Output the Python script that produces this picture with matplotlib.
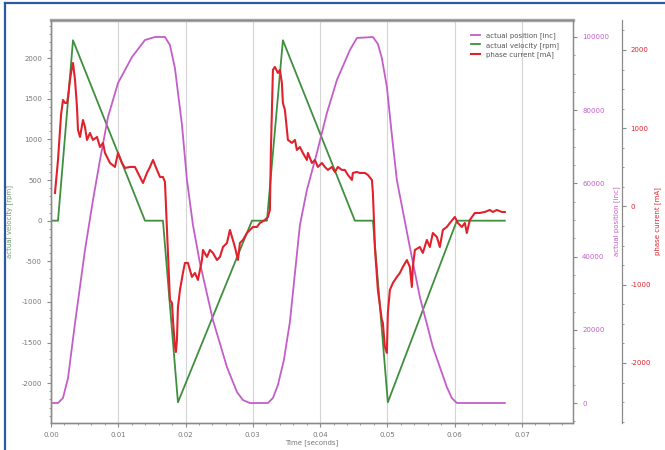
import matplotlib.pyplot as plt
from matplotlib.lines import Line2D
from matplotlib.ticker import MultipleLocator, AutoMinorLocator, FormatStrFormatter

plt.rcParams['axes.unicode_minus'] = False

# time values in milliseconds
vel_t = [0.0, 1.04, 3.27, 13.97, 16.64, 18.87, 29.87, 32.10, 34.47, 45.17,
         47.85, 50.07, 60.33, 67.46]
vel_rpm = [0, 0, 2220, 0, 0, -2235, 0, 0, 2220, 0, 0, -2235, 0, 0]

pos_t = [0.0, 1.04, 1.78, 2.53, 3.57, 5.05, 6.24, 7.28, 8.47, 9.96, 12.04,
         13.97, 15.45, 16.94, 17.68, 18.42, 19.47, 20.21, 21.10, 22.14, 24.07,
         26.15, 27.64, 28.53, 29.57, 32.24, 32.99, 33.73, 34.62, 35.51, 37.0,
         38.04, 39.52, 41.01, 42.50, 44.43, 45.47, 47.85, 48.59, 49.18, 49.93,
         50.67, 51.41, 53.34, 54.83, 56.76, 58.84, 59.58, 60.33, 67.46]
pos_inc = [0, 0, 1370, 6830, 21860, 41800, 55460, 66390, 78140, 87430, 94540,
           99180, 100000, 100000, 97810, 91530, 75960, 60930, 48630, 38250,
           22680, 9840, 3000, 820, 0, 0, 1370, 4920, 11750, 22130, 48630,
           58200, 68310, 79230, 88250, 96450, 99730, 100000, 98090, 94260,
           86340, 73220, 60930, 42620, 28960, 15300, 4370, 1370, 0, 0]

cur_t = [0.59, 1.04, 1.49, 1.78, 2.08, 2.38, 2.53, 2.82, 3.12, 3.27, 3.57,
         3.86, 4.01, 4.31, 4.75, 5.05, 5.35, 5.79, 6.24, 6.84, 7.28, 7.73,
         8.02, 8.32, 8.77, 9.51, 9.96, 10.55, 11.0, 11.74, 12.48, 13.22,
         13.67, 14.26, 14.71, 15.16, 15.75, 16.2, 16.64, 16.94, 17.24, 17.68,
         17.98, 18.13, 18.42, 18.57, 18.72, 18.87, 19.17, 19.61, 19.91, 20.36,
         20.95, 21.40, 21.84, 22.44, 22.59, 23.18, 23.63, 24.07, 24.67, 25.11,
         25.56, 26.15, 26.60, 27.04, 27.34, 27.79, 28.08, 28.53, 29.12, 29.57,
         30.01, 30.61, 31.05, 31.80, 32.24, 32.54, 32.69, 32.99, 33.28, 33.73,
         34.03, 34.32, 34.47, 34.77, 35.07, 35.22, 35.81, 36.26, 36.55, 37.0,
         37.44, 38.04, 38.19, 38.78, 39.23, 39.67, 40.27, 40.71, 41.16, 41.75,
         42.2, 42.64, 43.24, 43.68, 44.13, 44.73, 44.87, 45.47, 45.91, 46.66,
         47.10, 47.70, 47.85, 48.0, 48.14, 48.59, 49.18, 49.33, 49.63, 49.93,
         50.07, 50.37, 50.82, 51.41, 51.86, 52.30, 52.90, 53.34, 53.64, 53.79,
         54.09, 54.83, 55.27, 55.87, 56.32, 56.76, 57.36, 57.80, 58.25, 58.84,
         59.29, 60.03, 60.48, 61.07, 61.52, 61.81, 62.26, 63.0, 63.74, 64.49,
         65.23, 65.68, 66.27, 67.01, 67.46]
cur_ma = [173, 594, 1169, 1361, 1323, 1323, 1400, 1617, 1783, 1834, 1617,
          1272, 978, 888, 1105, 1016, 850, 939, 850, 888, 760, 812, 684, 633,
          556, 505, 684, 556, 492, 505, 505, 377, 300, 428, 505, 594, 467, 377,
          377, 313, -300, -1195, -1233, -1450, -1796, -1860, -1706, -1284,
          -1067, -850, -722, -722, -901, -850, -939, -684, -556, -645, -556,
          -594, -684, -645, -518, -467, -300, -428, -518, -684, -467, -428,
          -339, -300, -262, -262, -211, -173, -134, -45, 722, 1745, 1783, 1706,
          1745, 1578, 1323, 1233, 978, 850, 812, 850, 722, 760, 684, 594, 684,
          556, 594, 505, 556, 505, 467, 505, 441, 505, 467, 467, 403, 339, 428,
          441, 428, 428, 403, 339, 173, -160, -518, -1067, -1450, -1489, -1796,
          -1872, -1361, -1067, -978, -901, -850, -773, -684, -773, -1029, -773,
          -556, -518, -594, -428, -518, -339, -390, -518, -300, -262, -211,
          -134, -211, -262, -211, -339, -173, -83, -83, -70, -45, -70, -45,
          -70, -70]

GREEN = '#3f8f3f'
MAGENTA = '#c35ec9'
RED = '#e0222c'
GREY = '#777777'

fig = plt.figure(figsize=(6.65, 4.5), dpi=100)
ax = fig.add_axes([0.0767, 0.06, 0.785, 0.8956])
ax_pos = ax.twinx()
ax_cur = ax.twinx()
ax_cur.spines['right'].set_position(('outward', 35))

l_vel, = ax.plot([t / 1000 for t in vel_t], vel_rpm, color=GREEN, lw=1.3,
                 label='actual velocity [rpm]')
l_pos, = ax_pos.plot([t / 1000 for t in pos_t], pos_inc, color=MAGENTA,
                     lw=1.3, label='actual position [inc]')
l_cur, = ax_cur.plot([t / 1000 for t in cur_t], cur_ma, color=RED, lw=1.5,
                     label='phase current [mA]')

ax.set_xlim(0, 0.0776)
ax.set_ylim(-2490, 2470)
ax_pos.set_ylim(-5460, 104650)
ax_cur.set_ylim(-2767, 2383)

ax.xaxis.set_major_locator(MultipleLocator(0.01))
ax.xaxis.set_major_formatter(FormatStrFormatter('%.2f'))
ax.xaxis.set_minor_locator(AutoMinorLocator(5))
ax.yaxis.set_major_locator(MultipleLocator(500))
ax.yaxis.set_minor_locator(AutoMinorLocator(5))
ax_pos.yaxis.set_major_locator(MultipleLocator(20000))
ax_pos.yaxis.set_minor_locator(AutoMinorLocator(4))
ax_cur.yaxis.set_major_locator(MultipleLocator(1000))
ax_cur.yaxis.set_minor_locator(AutoMinorLocator(4))

ax.grid(axis='x', color='#d4d4d4', lw=0.8)

for a in (ax, ax_pos, ax_cur):
    for s in a.spines.values():
        s.set_color('#8a8a8a')
        s.set_linewidth(0.9)
    a.tick_params(which='both', colors='#8a8a8a', labelsize=5, length=3)
    a.tick_params(which='minor', length=1.5)
ax.spines['top'].set_color('#b0b0b0')
ax.spines['top'].set_linewidth(2.5)
ax.tick_params(axis='both', labelcolor=GREY)
ax_pos.tick_params(axis='y', labelcolor=MAGENTA)
ax_cur.tick_params(axis='y', labelcolor=RED)

ax.set_xlabel('Time [seconds]', fontsize=5, color=GREY, labelpad=1)
ax.set_ylabel('actual velocity [rpm]', fontsize=5, color='#6f9a6f', labelpad=6)
ax_pos.set_ylabel('actual position [inc]', fontsize=5, color=MAGENTA,
                  labelpad=3)
ax_cur.set_ylabel('phase current [mA]', fontsize=5, color=RED, labelpad=2)

ax_cur.legend(handles=[l_pos, l_vel, l_cur], loc='upper right',
              bbox_to_anchor=(0.985, 0.985), frameon=False, fontsize=5,
              handlelength=1.3, labelspacing=0.4, labelcolor='#555555')

# blue frame of the figure (top and left edge)
fig.add_artist(Line2D([5 / 665, 1], [1 - 3 / 450] * 2,
                      transform=fig.transFigure, color='#2c5aa0', lw=1.6))
fig.add_artist(Line2D([5 / 665] * 2, [0, 1 - 3 / 450],
                      transform=fig.transFigure, color='#2c5aa0', lw=1.6))

fig.savefig('out.png', dpi=100)
plt.close('all')
